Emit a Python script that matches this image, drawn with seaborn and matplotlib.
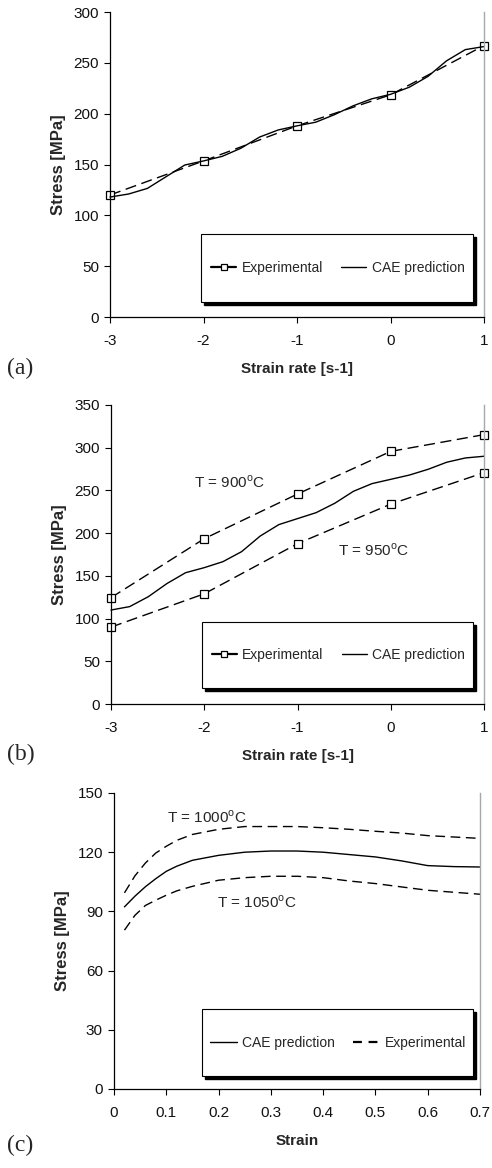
import matplotlib
matplotlib.use("Agg")
import matplotlib.pyplot as plt
import seaborn as sns
import pandas as pd
from matplotlib.lines import Line2D
from matplotlib.patches import Rectangle

# ---------------- data ----------------
# Panel (a)
a_exp_x = [-3, -2, -1, 0, 1]
a_exp_y = [120, 153.5, 188, 218.5, 267]
a_cae_x = [-3, -2.8, -2.6, -2.4, -2.2, -2, -1.8, -1.6, -1.4, -1.2, -1, -0.8, -0.6, -0.4, -0.2, 0, 0.2, 0.4, 0.6, 0.8, 1]
a_cae_y = [118, 121, 126.5, 138, 149.5, 153.5, 158, 166, 177, 184, 188, 191.6, 199, 207.7, 214.6, 219, 226, 236.6, 252, 263, 266]

# Panel (b)
b_exp_x = [-3, -2, -1, 0, 1]
b_exp900_y = [124.5, 193.5, 245.8, 295.7, 315.3]
b_exp950_y = [90, 129, 187.7, 234, 270.8]
b_cae_x = [-3, -2.8, -2.6, -2.4, -2.2, -2, -1.8, -1.6, -1.4, -1.2, -1, -0.8, -0.6, -0.4, -0.2, 0, 0.2, 0.4, 0.6, 0.8, 1]
b_cae_y = [110, 114, 125.6, 141, 153.7, 159.6, 166.6, 178.3, 196.6, 210, 217, 224, 235, 249, 258, 263, 268, 274.7, 283, 288, 290]

# Panel (c)
c_x = [0.02, 0.04, 0.06, 0.08, 0.1, 0.12, 0.15, 0.2, 0.25, 0.3, 0.35, 0.4, 0.45, 0.5, 0.55, 0.6, 0.65, 0.7]
c_exp1000_y = [99.4, 108, 114.5, 119.6, 123, 126, 129, 131.6, 133, 133, 133, 132.4, 131.6, 130.6, 129.7, 128.4, 127.7, 127]
c_cae_y = [92.3, 97.7, 102.5, 106.6, 110.3, 112.9, 115.9, 118.4, 120, 120.6, 120.6, 120, 118.8, 117.6, 115.6, 113.2, 112.7, 112.5]
c_exp1050_y = [80.5, 88, 93, 95.7, 98.2, 100.4, 102.7, 105.8, 107.1, 107.8, 107.8, 107.1, 105.4, 104.1, 102.4, 100.7, 99.7, 98.7]

# tick labels
a_yticks = [0, 50, 100, 150, 200, 250, 300]
b_yticks = [0, 50, 100, 150, 200, 250, 300, 350]
c_yticks = [0, 30, 60, 90, 120, 150]
ab_xticks = [-3, -2, -1, 0, 1]
c_xticks = [0, 0.1, 0.2, 0.3, 0.4, 0.5, 0.6, 0.7]
c_xticklabels = ["0", "0.1", "0.2", "0.3", "0.4", "0.5", "0.6", "0.7"]

# ---------------- style ----------------
sns.set_theme(style="white")
plt.rcParams["font.family"] = ["Liberation Sans", "DejaVu Sans"]
plt.rcParams["mathtext.fontset"] = "custom"
plt.rcParams["mathtext.rm"] = "Liberation Sans"
plt.rcParams["axes.unicode_minus"] = False

W, H = 492, 1168
fig = plt.figure(figsize=(W / 100, H / 100), dpi=100)


def fx(px):
    return px / W


def fy(py):
    return 1 - py / H


def make_axes(l, r, t, b):
    return fig.add_axes([fx(l), fy(b), fx(r) - fx(l), (b - t) / H])


def style_axes(ax, xlim, xticks, ylim, yticks, xlabel, xticklabels=None):
    ax.set_xlim(*xlim)
    ax.set_ylim(*ylim)
    ax.set_xticks(xticks)
    if xticklabels is not None:
        ax.set_xticklabels(xticklabels)
    else:
        ax.set_xticklabels([str(v) for v in xticks])
    ax.set_yticks(yticks)
    ax.spines["top"].set_visible(False)
    ax.spines["right"].set_color("#a8a8a8")
    ax.spines["right"].set_linewidth(1.0)
    for s in ("left", "bottom"):
        ax.spines[s].set_color("black")
        ax.spines[s].set_linewidth(0.9)
    ax.tick_params(axis="both", direction="out", length=4, width=0.8,
                   color="black", labelsize=11, labelcolor="#111111",
                   left=True, bottom=True)
    ax.tick_params(axis="x", pad=8)
    ax.tick_params(axis="y", pad=4)
    ax.set_xlabel(xlabel, fontsize=11, fontweight="bold", labelpad=10)
    ax.set_ylabel("Stress [MPa]", fontsize=12, fontweight="bold", labelpad=5)
    ax.set_facecolor("white")


def legend_box(l, r, t, b, handles, labels, hl=1.8, tp=0.4, cs=1.3):
    sh = Rectangle((fx(l + 3), fy(b + 3)), fx(r) - fx(l), (b - t) / H,
                   transform=fig.transFigure, facecolor="black",
                   edgecolor="black", zorder=5)
    bx = Rectangle((fx(l), fy(b)), fx(r) - fx(l), (b - t) / H,
                   transform=fig.transFigure, facecolor="white",
                   edgecolor="black", linewidth=0.8, zorder=6)
    fig.add_artist(sh)
    fig.add_artist(bx)
    leg = fig.legend(handles, labels, loc="center",
                     bbox_to_anchor=(fx((l + r) / 2 + 1), fy((t + b) / 2)),
                     ncol=2, frameon=False, fontsize=10,
                     handlelength=hl, handletextpad=tp, columnspacing=cs,
                     borderpad=0.0, borderaxespad=0.0)
    leg.set_zorder(7)


def dashed(ax, x, y, marker=None, dashes=(8, 4)):
    sns.lineplot(x=x, y=y, ax=ax, color="black", lw=1.0, marker=marker,
                 markersize=6, markerfacecolor="white",
                 markeredgecolor="black", markeredgewidth=0.9,
                 estimator=None, sort=False)
    ax.lines[-1].set_dashes(dashes)


def solid(ax, x, y):
    sns.lineplot(x=x, y=y, ax=ax, color="black", lw=1.0,
                 estimator=None, sort=False)


# ---------------- panel (a) ----------------
ax_a = make_axes(110, 484, 12, 317)
dashed(ax_a, a_exp_x, a_exp_y, marker="s")
solid(ax_a, a_cae_x, a_cae_y)
style_axes(ax_a, (-3, 1), ab_xticks, (0, 300), a_yticks, "Strain rate [s-1]")
for ln in ax_a.lines:
    ln.set_clip_on(False)

h_exp = Line2D([], [], color="black", lw=1.6, marker="s", markersize=5,
               markerfacecolor="white", markeredgecolor="black", markeredgewidth=0.9)
h_cae = Line2D([], [], color="black", lw=1.0)
legend_box(201, 473, 234, 302, [h_exp, h_cae], ["Experimental", "CAE prediction"])
fig.text(fx(7), fy(368), "(a)", family="Liberation Serif", fontsize=17, va="center")

# ---------------- panel (b) ----------------
ax_b = make_axes(111, 484, 405, 704)
dashed(ax_b, b_exp_x, b_exp900_y, marker="s")
dashed(ax_b, b_exp_x, b_exp950_y, marker="s")
solid(ax_b, b_cae_x, b_cae_y)
style_axes(ax_b, (-3, 1), ab_xticks, (0, 350), b_yticks, "Strain rate [s-1]")
for ln in ax_b.lines:
    ln.set_clip_on(False)
ax_b.text(-2.11, 259, r"T = 900$^{\mathregular{o}}$C", fontsize=11, va="center", ha="left")
ax_b.text(-0.57, 180, r"T = 950$^{\mathregular{o}}$C", fontsize=11, va="center", ha="left")
legend_box(202, 473, 622, 688, [h_exp, h_cae], ["Experimental", "CAE prediction"])
fig.text(fx(7), fy(754), "(b)", family="Liberation Serif", fontsize=17, va="center")

# ---------------- panel (c) ----------------
ax_c = make_axes(114, 480, 793, 1089)
dashed(ax_c, c_x, c_exp1000_y, dashes=(7, 4))
solid(ax_c, c_x, c_cae_y)
dashed(ax_c, c_x, c_exp1050_y, dashes=(7, 4))
style_axes(ax_c, (0, 0.7), c_xticks, (0, 150), c_yticks, "Strain", c_xticklabels)
ax_c.text(0.101, 137.8, r"T = 1000$^{\mathregular{o}}$C", fontsize=11, va="center", ha="left")
ax_c.text(0.197, 94.8, r"T = 1050$^{\mathregular{o}}$C", fontsize=11, va="center", ha="left")
h_exp_c = Line2D([], [], color="black", lw=1.6, dashes=(4, 3))
legend_box(202, 473, 1009, 1076, [h_cae, h_exp_c], ["CAE prediction", "Experimental"],
           hl=1.9, tp=0.4, cs=1.3)
fig.text(fx(7), fy(1145), "(c)", family="Liberation Serif", fontsize=17, va="center")

fig.savefig("out.png", dpi=100, facecolor="white")
